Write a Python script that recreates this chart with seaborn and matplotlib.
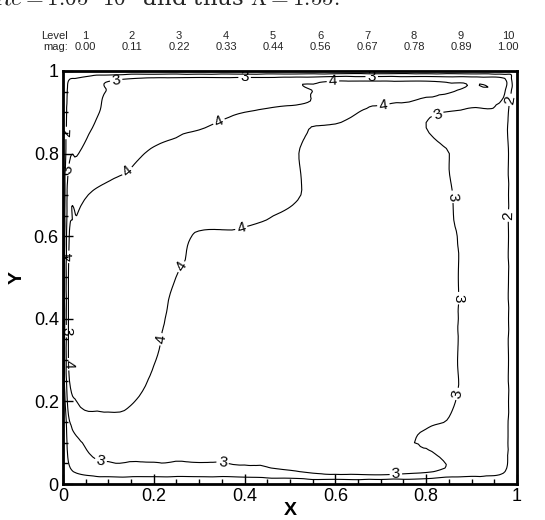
import matplotlib
matplotlib.use("Agg")
import matplotlib.pyplot as plt
import matplotlib.tri as mtri
import numpy as np
import seaborn as sns
from matplotlib.ticker import MultipleLocator

# contour levels as listed in the legend header
level_ids = [1, 2, 3, 4, 5, 6, 7, 8, 9, 10]
level_mags = [0.00, 0.11, 0.22, 0.33, 0.44, 0.56, 0.67, 0.78, 0.89, 1.00]

# sample positions (denser next to the walls)
x_pts = [0, 0.012, 0.03, 0.1, 0.2, 0.3, 0.4, 0.5, 0.6, 0.7, 0.8, 0.9, 0.97, 1.0]
y_pts = [0, 0.03, 0.1, 0.2, 0.3, 0.4, 0.5, 0.6, 0.7, 0.8, 0.9, 0.95, 0.98, 1.0]

# magnitude, one row per y position (bottom to top)
mag_y000 = [0, 0, 0, 0, 0, 0, 0, 0, 0, 0, 0, 0, 0, 0]
mag_y003 = [0, 0.08, 0.12, 0.17, 0.17, 0.17, 0.18, 0.21, 0.26, 0.27, 0.23, 0.16, 0.12, 0]
mag_y010 = [0, 0.14, 0.20, 0.25, 0.25, 0.25, 0.25, 0.25, 0.26, 0.245, 0.21, 0.18, 0.15, 0]
mag_y020 = [0, 0.26, 0.33, 0.35, 0.31, 0.28, 0.275, 0.27, 0.27, 0.265, 0.25, 0.20, 0.16, 0]
mag_y030 = [0, 0.33, 0.36, 0.37, 0.332, 0.29, 0.285, 0.28, 0.275, 0.27, 0.26, 0.20, 0.16, 0]
mag_y040 = [0, 0.33, 0.36, 0.37, 0.34, 0.30, 0.29, 0.285, 0.28, 0.275, 0.265, 0.20, 0.16, 0]
mag_y050 = [0, 0.33, 0.36, 0.37, 0.35, 0.31, 0.30, 0.29, 0.285, 0.28, 0.265, 0.20, 0.16, 0]
mag_y060 = [0, 0.31, 0.345, 0.37, 0.37, 0.325, 0.32, 0.30, 0.29, 0.28, 0.26, 0.20, 0.16, 0]
mag_y070 = [0, 0.27, 0.305, 0.35, 0.37, 0.38, 0.37, 0.34, 0.30, 0.28, 0.245, 0.20, 0.16, 0]
mag_y080 = [0, 0.19, 0.215, 0.28, 0.34, 0.37, 0.38, 0.34, 0.29, 0.28, 0.24, 0.20, 0.16, 0]
mag_y090 = [0, 0.15, 0.17, 0.235, 0.27, 0.30, 0.33, 0.34, 0.345, 0.31, 0.235, 0.20, 0.16, 0]
mag_y095 = [0, 0.13, 0.15, 0.225, 0.27, 0.29, 0.30, 0.30, 0.36, 0.36, 0.35, 0.31, 0.24, 0]
mag_y098 = [0, 0.10, 0.12, 0.20, 0.25, 0.26, 0.26, 0.27, 0.30, 0.30, 0.30, 0.28, 0.24, 0]
mag_y100 = [0, 0, 0, 0, 0, 0, 0, 0, 0, 0, 0, 0, 0, 0]

mag = np.array([mag_y000, mag_y003, mag_y010, mag_y020, mag_y030, mag_y040, mag_y050,
                mag_y060, mag_y070, mag_y080, mag_y090, mag_y095, mag_y098, mag_y100])

# where the level numbers sit on the lines in the reference
label_spots = [(0.155, 0.736), (0.342, 0.881), (0.595, 0.966),
               (0.705, 0.922), (0.39, 0.632), (0.265, 0.523), (0.199, 0.353),
               (0.118, 0.97), (0.40, 0.985), (0.68, 0.985),
               (0.823, 0.90), (0.852, 0.695), (0.89, 0.45), (0.881, 0.216),
               (0.731, 0.07), (0.082, 0.05), (0.353, 0.07),
               (0.006, 0.85), (0.02, 0.76), (0.012, 0.55), (0.006, 0.37), (0.012, 0.29),
               (0.99, 0.65), (0.985, 0.93)]

sns.set_theme(style="white")
plt.rcParams['font.family'] = ['Liberation Sans', 'DejaVu Sans']
plt.rcParams['mathtext.fontset'] = 'cm'

fig = plt.figure(figsize=(5.45, 5.2), dpi=100)
ax = fig.add_axes([0.1156, 0.0692, 0.833, 0.7943])

# smooth the coarse field with matplotlib's own triangulation refiner
X, Y = np.meshgrid(x_pts, y_pts)
tri = mtri.Triangulation(X.ravel(), Y.ravel())
refiner = mtri.UniformTriRefiner(tri)
tri_f, mag_f = refiner.refine_field(mag.ravel(),
                                    mtri.CubicTriInterpolator(tri, mag.ravel(), kind='geom'),
                                    subdiv=3)
# keep the smoothed field inside the range of the read values
mag_f = np.clip(mag_f, mag.min(), mag.max())

cs = ax.tricontour(tri_f, mag_f, levels=level_mags[1:], colors='black', linewidths=0.8)
fmt = {m: str(i) for m, i in zip(level_mags, level_ids)}
ax.clabel(cs, fmt=fmt, fontsize=11, inline=True, inline_spacing=2, manual=label_spots)

ax.set_xlim(0, 1)
ax.set_ylim(0, 1)
ax.set_xticks([0, 0.2, 0.4, 0.6, 0.8, 1])
ax.set_xticklabels(['0', '0.2', '0.4', '0.6', '0.8', '1'])
ax.set_yticks([0, 0.2, 0.4, 0.6, 0.8, 1])
ax.set_yticklabels(['0', '0.2', '0.4', '0.6', '0.8', '1'])
ax.xaxis.set_minor_locator(MultipleLocator(0.05))
ax.yaxis.set_minor_locator(MultipleLocator(0.05))
ax.tick_params(which='both', direction='in', color='black', width=1,
               bottom=True, left=True, top=False, right=False)
ax.tick_params(which='major', length=7, labelsize=13, pad=3, labelcolor='black')
ax.tick_params(which='minor', length=3.5)
for s in ax.spines.values():
    s.set_visible(True)
    s.set_color('black')
    s.set_linewidth(2)

ax.set_xlabel('X', fontsize=14, fontweight='bold', labelpad=-2, color='black')
ax.set_ylabel('Y', fontsize=14, fontweight='bold', labelpad=6, color='black')

# legend header above the plot
fig.text(68 / 545, 1 - 36 / 520, 'Level', ha='right', va='center', fontsize=8)
fig.text(68 / 545, 1 - 47 / 520, 'mag:', ha='right', va='center', fontsize=8)
for k, (i, m) in enumerate(zip(level_ids, level_mags)):
    xc = (85 + k * 47) / 545
    fig.text(xc, 1 - 36 / 520, str(i), ha='center', va='center', fontsize=8)
    fig.text(xc, 1 - 47 / 520, f'{m:.2f}', ha='center', va='center', fontsize=8)

# cut-off line of the surrounding page text
fig.text(-0.012, 1 + 1 / 520, r'$Re = 1.05\cdot 10^4$ and thus $\Lambda = 1.55.$',
         ha='left', va='center', fontsize=16.5, family='DejaVu Serif')

fig.savefig('out.png', dpi=100)
